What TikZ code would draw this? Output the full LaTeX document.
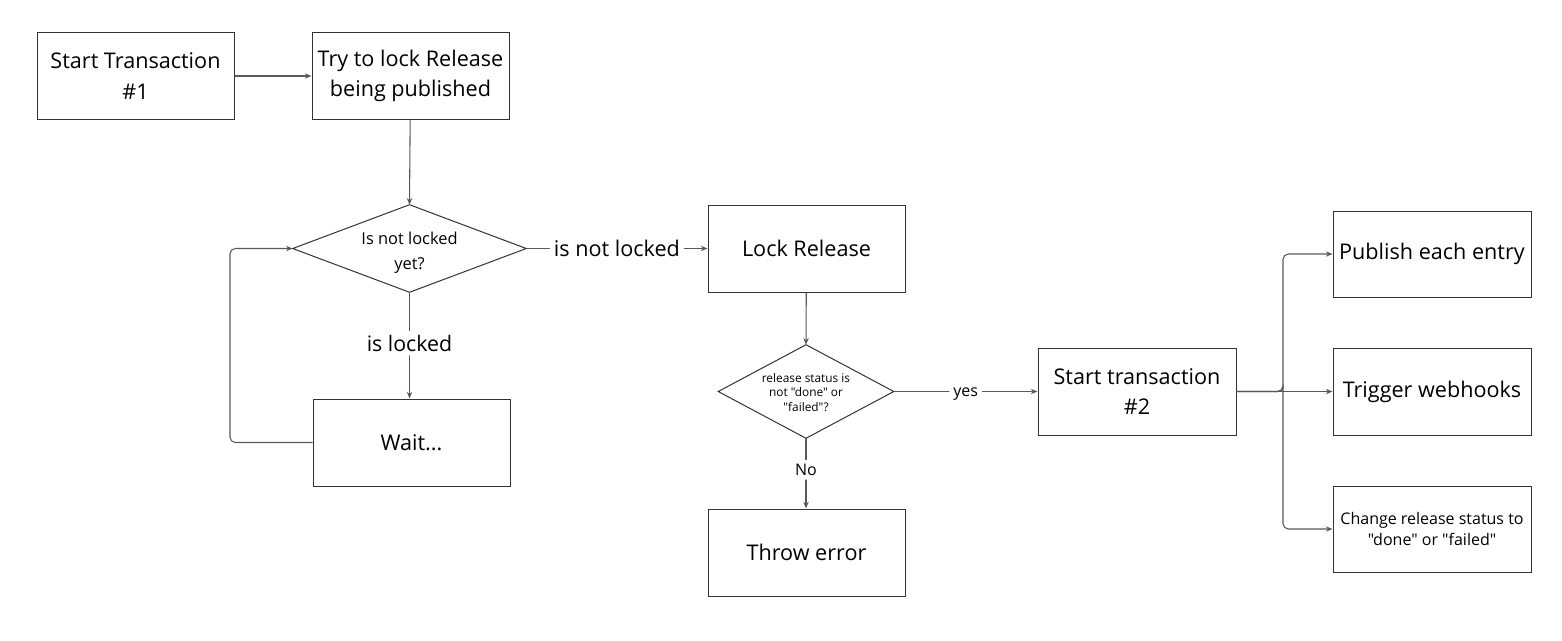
\documentclass[tikz,border=0pt]{standalone}
\usepackage{fontspec}
\setmainfont{Open Sans}[Ligatures=TeXOff]
\usetikzlibrary{arrows.meta,shapes.geometric}
\begin{document}
\begin{tikzpicture}[x=0.75pt,y=-0.75pt,
  box/.style={draw=black!80,line width=0.75pt,minimum width=197*0.75pt,minimum height=87*0.75pt,align=center,font=\fontsize{16.2}{23}\selectfont,inner sep=2pt},
  shp/.style={shape=rectangle,inner sep=0pt},
  conn/.style={draw=black!65,line width=0.8pt,-{Stealth[length=5pt,width=4pt]},rounded corners=4pt},
  lbl/.style={fill=white,inner sep=3pt}]
\useasboundingbox (0,0) rectangle (1562,640);
\node[box] (start) at (135.5,76) {Start Transaction\\\#1};
\node[box] (try) at (410.5,76) {Try to lock Release\\being published};
\node[shp,minimum width=233*0.75pt,minimum height=87*0.75pt] (d1) at (409.5,248.5) {};
\draw[black!80,line width=0.75pt] (d1.west) -- (d1.north) -- (d1.east) -- (d1.south) -- cycle;
\node[align=center,font=\fontsize{12.3}{18.5}\selectfont] (d1t) at (409.5,252.5) {Is not locked\\yet?};
\node[box] (lock) at (806.5,248.5) {Lock Release};
\node[box] (wait) at (411.5,442.5) {Wait...};
\node[shp,minimum width=175*0.75pt,minimum height=93*0.75pt] (d2) at (806,391.5) {};
\draw[black!80,line width=0.75pt] (d2.west) -- (d2.north) -- (d2.east) -- (d2.south) -- cycle;
\node[align=center,font=\fontsize{8.9}{11}\selectfont] (d2t) at (806,392.5) {release status is\\not "done" or\\"failed"?};
\node[box] (err) at (806.5,552.5) {Throw error};
\node[box,minimum width=198*0.75pt] (st2) at (1137,391.5) {Start transaction\\\#2};
\node[box,minimum width=198*0.75pt,minimum height=86*0.75pt] (pub) at (1432,254) {Publish each entry};
\node[box,minimum width=198*0.75pt] (trig) at (1432,391.5) {Trigger webhooks};
\node[box,minimum width=198*0.75pt,minimum height=86*0.75pt,font=\fontsize{12}{16}\selectfont] (chg) at (1432,529) {Change release status to\\"done" or "failed"};
\coordinate (jn) at (1283,391.5);
\coordinate (lp) at (230,248.5);
% connectors
\draw[conn] (start) -- (try);
\draw[conn] (try) -- (d1.north);
\draw[conn] (d1.east) -- node[lbl,font=\fontsize{16.2}{18}\selectfont]{is not locked} (lock);
\draw[conn] (d1.south) -- node[lbl,pos=0.48,font=\fontsize{16}{18}\selectfont]{is locked} (wait.north -| d1.south);
\draw[conn] (wait.west) -| (lp) -- (d1.west);
\draw[conn] (lock) -- (d2.north);
\draw[conn] (d2.east) -- node[lbl,font=\fontsize{12}{14}\selectfont,text depth=0pt,text height=7pt]{yes} (st2);
\draw[conn] (d2.south) -- node[lbl,pos=0.45,font=\fontsize{12}{14}\selectfont]{No} (err.north -| d2.south);
\draw[conn] (st2) -- (trig);
\draw[conn] (st2.east) -| (jn) |- (pub.west);
\draw[conn] (st2.east) -| (jn) |- (chg.west);
\end{tikzpicture}
\end{document}
